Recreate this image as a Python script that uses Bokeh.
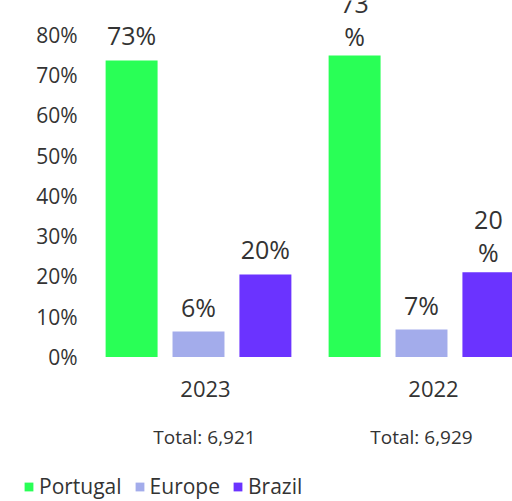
from bokeh.plotting import figure
from bokeh.models import ColumnDataSource, Range1d, Legend, LegendItem
from bokeh.transform import dodge
from bokeh.core.properties import value
from bokeh.embed import file_html
from bokeh.resources import INLINE

# ---- data ----
years = ["2023", "2022"]
totals = ["Total: 6,921", "Total: 6,929"]
series = ["Portugal", "Europe", "Brazil"]
portugal = [73.6, 74.8]
europe = [6.3, 6.8]
brazil = [20.5, 21.0]
portugal_labels = ["73%", "73\n%"]
europe_labels = ["6%", "7%"]
brazil_labels = ["20%", "20\n%"]
y_ticks = [0, 10, 20, 30, 40, 50, 60, 70, 80]
y_tick_labels = ["0%", "10%", "20%", "30%", "40%", "50%", "60%", "70%", "80%"]

# ---- style ----
colors = ["#29FF56", "#A3ACEB", "#6B33FF"]
offsets = [-0.30, 0.0, 0.30]
bar_w = 0.233
FONT = "Open Sans"
TXT = "#333333"
PX_PER_PCT = 4.03
PX_PER_GROUP = 223.0

idx = list(range(len(years)))

W, H = 512, 501
first_group_px = 198
zero_px = 356.5  # distance of the 0% line from the top
x_range = Range1d(-first_group_px / PX_PER_GROUP, 1 + (W - first_group_px - PX_PER_GROUP) / PX_PER_GROUP)
y_range = Range1d(-(H - zero_px) / PX_PER_PCT, zero_px / PX_PER_PCT)
p = figure(width=W, height=H, x_range=x_range, y_range=y_range,
           output_backend="svg", toolbar_location=None,
           x_axis_location=None, y_axis_location=None,
           min_border_left=0, min_border_right=0, min_border_top=0, min_border_bottom=0)
p.outline_line_color = None
p.grid.visible = False

vals = [portugal, europe, brazil]
labels = [portugal_labels, europe_labels, brazil_labels]
items = []
for name, v, lab, c, off in zip(series, vals, labels, colors, offsets):
    src = ColumnDataSource(dict(x=idx, top=v))
    r = p.vbar(x=dodge("x", off, range=p.x_range), top="top", bottom=0, width=bar_w, source=src,
               fill_color=c, line_color=None)
    items.append(LegendItem(label=name, renderers=[r]))
    xs, ys, ts, yo = [], [], [], []
    for i, val, t in zip(idx, v, lab):
        lines = t.split("\n")
        base = -25 if len(lines) == 1 else -20
        for k, line in enumerate(reversed(lines)):
            xs.append(i); ys.append(val); ts.append(line); yo.append(base - 32 * k)
    tsrc = ColumnDataSource(dict(x=xs, y=ys, text=ts, yo=yo))
    p.text(x=dodge("x", off, range=p.x_range), y="y", text="text", y_offset="yo", source=tsrc,
           text_align="center", text_baseline="middle", text_font=value(FONT),
           text_font_size="25px", text_color=TXT)

# y tick labels (value axis)
tsrc = ColumnDataSource(dict(x=[x_range.start] * len(y_ticks), y=y_ticks, text=y_tick_labels))
p.text(x="x", y="y", text="text", source=tsrc, x_offset=77,
       text_align="right", text_baseline="middle", text_font=value(FONT),
       text_font_size="21px", text_color=TXT)

# category labels and totals under the groups
csrc = ColumnDataSource(dict(x=idx, y=[0] * len(idx), year=years, total=totals,
                             xo_year=[7, 12], xo_total=[6, 0]))
p.text(x="x", y="y", text="year", source=csrc, x_offset="xo_year", y_offset=32,
       text_align="center", text_baseline="middle", text_font=value(FONT),
       text_font_size="22px", text_color=TXT)
p.text(x="x", y="y", text="total", source=csrc, x_offset="xo_total", y_offset=80,
       text_align="center", text_baseline="middle", text_font=value(FONT),
       text_font_size="19px", text_color=TXT)

legend = Legend(items=items, orientation="horizontal", location=(23, 1),
                glyph_width=11, glyph_height=11, label_standoff=5, spacing=12,
                label_text_font=FONT, label_text_font_size="21px", label_text_color=TXT,
                border_line_color=None, background_fill_alpha=0, padding=0, margin=0)
p.add_layout(legend)

open("out.html", "w").write(file_html(p, INLINE))
